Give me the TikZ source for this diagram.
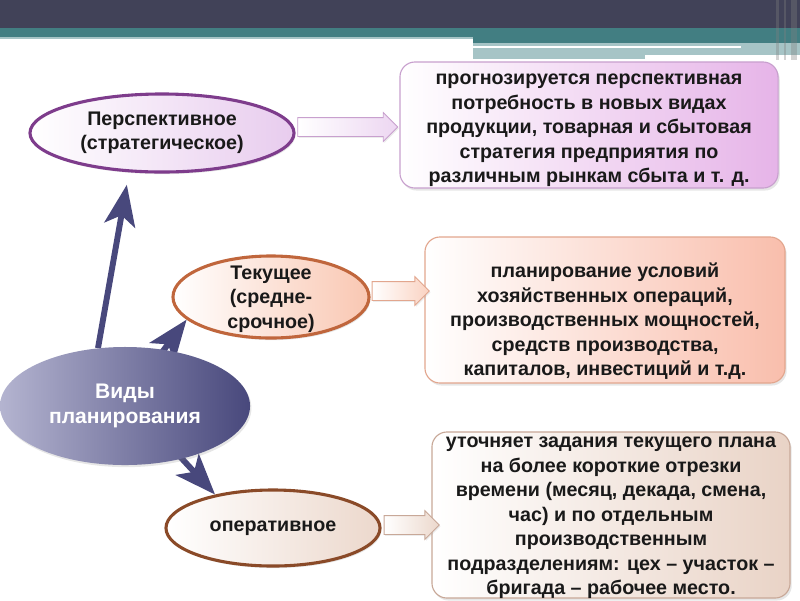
\documentclass[tikz,border=0pt]{standalone}
\usepackage{fontspec}
\setmainfont{Liberation Sans}
\usetikzlibrary{calc}
\usetikzlibrary{shapes.geometric}
\usetikzlibrary{shapes.arrows}
\usetikzlibrary{arrows.meta}
\usetikzlibrary{shadows}
\usetikzlibrary{backgrounds}

\definecolor{headdark}{RGB}{65,66,88}
\definecolor{headteal}{RGB}{66,126,130}
\definecolor{headlight}{RGB}{166,196,198}
\definecolor{navy}{RGB}{72,72,124}
\definecolor{navylight}{RGB}{180,180,208}
\definecolor{perspline}{RGB}{126,60,140}
\definecolor{perspfill}{RGB}{232,204,238}
\definecolor{curline}{RGB}{192,102,60}
\definecolor{curfill}{RGB}{249,199,178}
\definecolor{operline}{RGB}{138,74,40}
\definecolor{operfill}{RGB}{236,216,204}
\definecolor{boxafill}{RGB}{230,180,232}
\definecolor{boxaline}{RGB}{200,160,206}
\definecolor{boxbfill}{RGB}{249,190,172}
\definecolor{boxbline}{RGB}{226,166,142}
\definecolor{boxcfill}{RGB}{233,211,198}
\definecolor{boxcline}{RGB}{200,168,152}

\tikzset{
  txt/.style={font=\bfseries\fontsize{14}{17.4}\selectfont, align=center, text=black!90},
  kind/.style={ellipse, line width=2.2pt, inner sep=0pt, txt,
    drop shadow={opacity=0.2, shadow xshift=1pt, shadow yshift=-1.5pt}},
  descr/.style={rectangle, rounded corners=0.375cm, line width=0.8pt,
    drop shadow={opacity=0.2, shadow xshift=1.2pt, shadow yshift=-1.8pt}},
  blockarrow/.style={single arrow, line width=0.6pt, inner xsep=0pt, inner ysep=6.4pt,
    single arrow head extend=0.125cm,
    drop shadow={opacity=0.15, shadow xshift=0.8pt, shadow yshift=-1pt}},
  navyarrow/.style={navy, line width=4.2pt, -{Stealth[length=29pt, width=22pt, inset=7pt]}},
}

\begin{document}
\begin{tikzpicture}[x=0.025cm, y=-0.025cm]
\useasboundingbox (0,0) rectangle (800,600);

% header bands
\fill[headdark] (0,0) rectangle (800,28);
\fill[headteal] (0,28) rectangle (800,37);
\fill[headlight] (0,37) rectangle (473,39);
\fill[headteal] (473,37) rectangle (800,43);
\fill[headlight] (473,43) rectangle (800,55);
\fill[white] (473,46) rectangle (741,48);
\fill[headlight] (473,55) rectangle (645,59);
\fill[gray, opacity=0.35] (776,0) rectangle (779,60);
\fill[gray, opacity=0.35] (784,0) rectangle (786,60);
\fill[gray, opacity=0.35] (791,0) rectangle (797,60);

% kinds of planning
\node[kind, draw=perspline, left color=white, right color=perspfill,
      minimum width=6.6cm, minimum height=1.95cm] (persp) at (162,133)
      {Перспективное\\(стратегическое)};
\node[kind, draw=curline, left color=white, right color=curfill,
      minimum width=4.9cm, minimum height=2.05cm,
      label={[txt, yshift=-1.5pt]center:Текущее\\(средне-\\срочное)}] (cur) at (271,297) {};
\node[kind, draw=operline, left color=white, right color=operfill,
      minimum width=5.35cm, minimum height=1.9cm] (oper) at (273,528)
      {оперативное};

% descriptions
\node[descr, draw=boxaline, left color=white, right color=boxafill,
      minimum width=9.45cm, minimum height=3.15cm,
      label={[txt, yshift=-4pt]center:прогнозируется перспективная\\потребность в новых видах\\продукции, товарная и сбытовая\\стратегия предприятия по\\различным рынкам сбыта и т. д.}] (boxa) at (589,125) {};
\node[descr, draw=boxbline, left color=white, right color=boxbfill,
      minimum width=9.0cm, minimum height=3.65cm,
      label={[txt, yshift=-8pt]center:планирование условий\\хозяйственных операций,\\производственных мощностей,\\средств производства,\\капиталов, инвестиций и т.д.}] (boxb) at (605,310) {};
\node[descr, draw=boxcline, left color=white, right color=boxcfill,
      minimum width=8.95cm, minimum height=4.15cm,
      label={[txt, yshift=-2pt]center:уточняет задания текущего плана\\на более короткие отрезки\\времени (месяц, декада, смена,\\час) и по отдельным\\производственным\\подразделениям: цех – участок –\\бригада – рабочее место.}] (boxc) at (611,515) {};

% block arrows
\node[blockarrow, draw=boxaline, left color=white, right color=perspfill!80,
      minimum height=2.5cm] (arra) at (343,127) {};
\node[blockarrow, draw=boxbline, left color=white, right color=curfill!80,
      minimum height=1.43cm] (arrb) at (396,291) {};
\node[blockarrow, draw=boxcline, left color=white, right color=operfill,
      minimum height=1.38cm] (arrc) at (407,525) {};

% centre
\node[ellipse, inner sep=0pt, left color=navylight, right color=navy,
      minimum width=6.25cm, minimum height=2.95cm, text=white, align=center,
      font=\bfseries\fontsize{15}{17.6}\selectfont,
      drop shadow={opacity=0.2, shadow xshift=1pt, shadow yshift=-1.5pt}] (vid) at (125,406)
      {Виды\\планирования};

\begin{scope}[on background layer]
  \draw[navyarrow, shorten >=9pt] (vid.115) -- (persp.230);
  \draw[navyarrow] ($(vid.center)!0.6!(vid.57)$) -- (cur.195);
  \draw[navyarrow] ($(vid.center)!0.6!(vid.320)$) -- (oper.150);
\end{scope}
\end{tikzpicture}
\end{document}
